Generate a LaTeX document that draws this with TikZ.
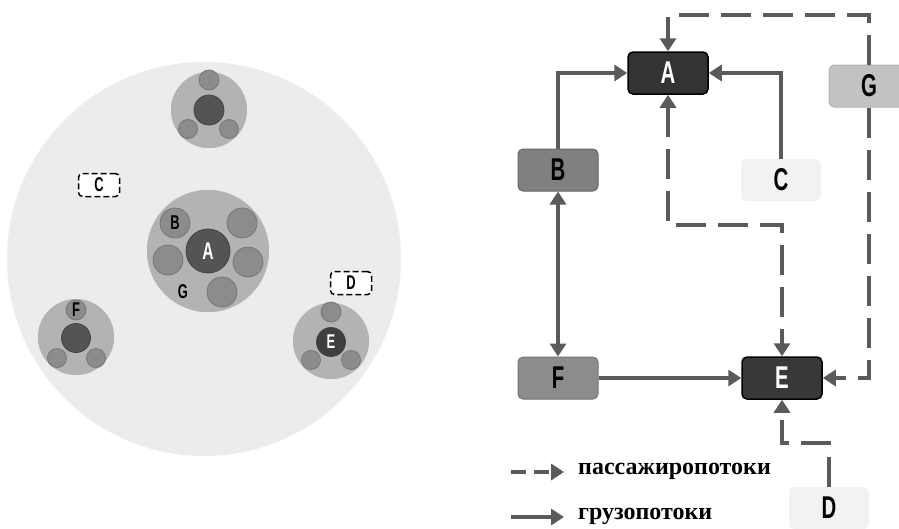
\documentclass[tikz,border=0pt]{standalone}
\usepackage{fontspec}
\setmainfont{Liberation Serif}
\newfontfamily\lblfont{Liberation Sans}
\newcommand{\lt}[1]{\scalebox{0.68}[1.05]{\lblfont\bfseries #1}}
\usetikzlibrary{arrows.meta}
\definecolor{bgc}{HTML}{ECECEC}
\definecolor{ring}{HTML}{B3B3B3}
\definecolor{sat}{HTML}{8C8C8C}
\definecolor{core}{HTML}{545454}
\definecolor{arr}{HTML}{5A5A5A}
\begin{document}
\begin{tikzpicture}[x=1pt,y=-1pt,
  ringc/.style={circle,inner sep=0pt,fill=ring,draw=white!85!gray,line width=1.5pt},
  satc/.style={circle,inner sep=0pt,fill=sat,draw=sat!85!black,line width=0.8pt},
  corec/.style={circle,inner sep=0pt,fill=core,draw=core!80!black,line width=0.8pt},
  lbl/.style={font=\fontsize{19}{21}\selectfont},
  dbox/.style={rectangle,rounded corners=4pt,draw=black,fill=white,line width=1.5pt,dash pattern=on 6pt off 3pt,minimum width=41pt,minimum height=23pt,inner sep=0pt,lbl},
  box/.style={rectangle,rounded corners=5pt,minimum width=80pt,minimum height=42pt,inner sep=0pt,font=\fontsize{30}{32}\selectfont},
  flow/.style={draw=arr,line width=4.5pt,-{Triangle[length=13pt,width=16pt]}},
  pass/.style={flow,dash pattern=on 30pt off 12pt},
]
\useasboundingbox (0,0) rectangle (899,528);
% ---------- left: city scheme ----------
\node[circle,inner sep=0pt,fill=bgc,minimum size=394pt] (city) at (204,259) {};
% top cluster
\node[ringc,minimum size=78pt] (t0) at (209,110) {};
\node[corec,minimum size=30pt] (t1) at (209,110) {};
\node[satc,minimum size=20pt] (t2) at (209,80) {};
\node[satc,minimum size=19pt] (t3) at (188,129) {};
\node[satc,minimum size=19pt] (t4) at (229,129) {};
% central cluster
\node[ringc,minimum size=124pt] (c0) at (208,251) {};
\node[corec,minimum size=44pt,text=white,font=\fontsize{23}{25}\selectfont] (cA) at (208,251) {\lt{A}};
\node[satc,minimum size=30pt,lbl] (cB) at (175,223) {\lt{B}};
\node[satc,minimum size=30pt] (c2) at (242,223) {};
\node[satc,minimum size=30pt] (c3) at (168,260) {};
\node[satc,minimum size=30pt] (c4) at (248,262) {};
\node[satc,minimum size=30pt] (c5) at (222,292) {};
\node[lbl] (cG) at (183,292) {\lt{G}};
% left-bottom cluster F
\node[ringc,minimum size=78pt] (f0) at (76,337) {};
\node[corec,minimum size=29pt] (f1) at (76,338) {};
\node[satc,minimum size=20pt,lbl] (fF) at (76,310) {\lt{F}};
\node[satc,minimum size=19pt] (f3) at (57,358) {};
\node[satc,minimum size=19pt] (f4) at (96,358) {};
% right-bottom cluster E
\node[ringc,minimum size=78pt] (e0) at (331,341) {};
\node[corec,minimum size=29pt,fill=core!75!black,text=white,lbl] (eE) at (331,342) {\lt{E}};
\node[satc,minimum size=20pt] (e2) at (331,312) {};
\node[satc,minimum size=19pt] (e3) at (311,360) {};
\node[satc,minimum size=19pt] (e4) at (351,360) {};
% dashed boxes
\node[dbox] (dC) at (99,185) {\lt{C}};
\node[dbox] (dD) at (351,283) {\lt{D}};
% ---------- right: flow scheme ----------
\node[box,fill=black!80,draw=black,line width=1.5pt,text=white] (A) at (668,73) {\lt{A}};
\node[box,fill=black!50,draw=black!60,line width=1pt] (B) at (558,170) {\lt{B}};
\node[box,fill=black!5] (C) at (781,180) {\lt{C}};
\node[box,fill=black!24,draw=black!30,line width=1pt] (G) at (869,86) {\lt{G}};
\node[box,fill=black!45,draw=black!55,line width=1pt] (F) at (558,378) {\lt{F}};
\node[box,fill=black!78,draw=black,line width=1.5pt,text=white] (E) at (782,378) {\lt{E}};
\node[box,fill=black!5] (D) at (829,508) {\lt{D}};
\coordinate (ga) at (668,15);
\coordinate (ae) at (668,225);
\coordinate (de) at (829,443);
\draw[pass] (G.north) |- (ga) -- (A.north);
\draw[flow] (B.north) |- (A.west);
\draw[flow] (C.north) |- (A.east);
\draw[pass,{Triangle[length=13pt,width=16pt]}-{Triangle[length=13pt,width=16pt]}] (A.south) -- (ae) -| (E.north);
\draw[flow,{Triangle[length=13pt,width=16pt]}-{Triangle[length=13pt,width=16pt]}] (B.south) -- (F.north);
\draw[flow] (F.east) -- (E.west);
\draw[pass] (G.south) |- (E.east);
\draw[pass] (D.north) -- (de) -| (E.south);
% legend
\coordinate (l1a) at (511,472);
\coordinate (l1b) at (564,472);
\coordinate (l2a) at (511,517);
\coordinate (l2b) at (564,517);
\draw[flow,dash pattern=on 15pt off 8pt] (l1a) -- (l1b);
\draw[flow] (l2a) -- (l2b);
\node[anchor=west,inner sep=0pt,font=\bfseries\fontsize{24}{26}\selectfont] (t1l) at (578,471) {пассажиропотоки};
\node[anchor=west,inner sep=0pt,font=\bfseries\fontsize{24}{26}\selectfont] (t2l) at (578,516) {грузопотоки};
\end{tikzpicture}
\end{document}
